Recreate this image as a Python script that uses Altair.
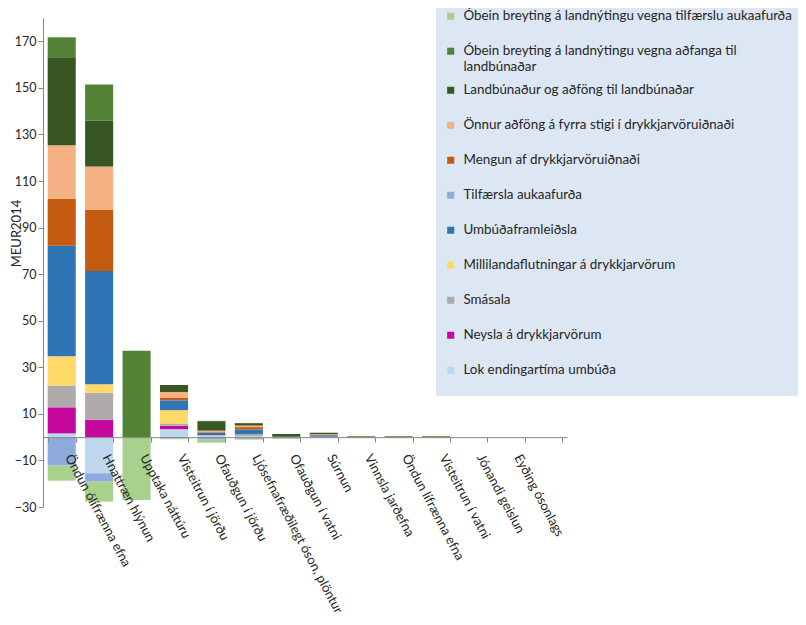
import altair as alt
import pandas as pd

categories = [
    "Öndun ólífrænna efna", "Hnattræn hlýnun", "Upptaka náttúru",
    "Visteitrun í jörðu", "Ofauðgun í jörðu", "Ljósefnafræðilegt óson, plöntur",
    "Ofauðgun í vatni", "Súrnun", "Vinnsla jarðefna", "Öndun lífrænna efna",
    "Visteitrun í vatni", "Jónandi geislun", "Eyðing ósonlags",
]

# series in stacking order (first = closest to zero)
lok_endingartima = [1.6, -15.5, 0, 3.4, 0.6, 0.4, 0.2, 0.2, 0, 0, 0, 0, 0]
neysla = [11.2, 7.5, 0, 1.5, 0, 0, 0, 0, 0, 0, 0, 0, 0]
smasala = [9.4, 11.6, 0, 0.8, 0.3, 0.9, 0, 0, 0, 0, 0, 0, 0]
millilandaflutningar = [12.5, 3.6, 0, 5.9, 0, 0, 0, 0, 0, 0, 0, 0, 0]
umbudaframleidsla = [47.5, 48.7, 0, 4.2, 0.9, 2.0, 0, 0.6, 0, 0, 0, 0, 0]
tilfaersla = [-12.2, -3.6, 0, -0.5, -1.1, -0.7, -0.4, -0.2, 0, 0, 0, 0, 0]
mengun = [20.1, 26.1, 0, 1.0, 0.3, 1.0, 0, 0.3, 0, 0, 0, 0, 0]
onnur_adfong = [23.0, 18.7, 0, 2.6, 0.7, 0.7, 0, 0.2, 0, 0, 0, 0, 0]
landbunadur = [37.8, 19.7, 0, 3.0, 3.7, 1.0, 1.2, 0.6, 0, 0, 0, 0, 0]
obein_adfanga = [8.6, 15.5, 37.1, 0, 0.5, 0, 0, 0, 0.4, 0.4, 0.4, 0, 0]
obein_tilfaerslu = [-6.5, -8.6, -27.0, -0.4, -1.3, -0.4, -0.3, -0.1, -0.3, -0.3, -0.3, 0, 0]

series_names = [
    "Lok endingartíma umbúða",
    "Neysla á drykkjarvörum",
    "Smásala",
    "Millilandaflutningar á drykkjarvörum",
    "Umbúðaframleiðsla",
    "Tilfærsla aukaafurða",
    "Mengun af drykkjarvöruiðnaði",
    "Önnur aðföng á fyrra stigi í drykkjarvöruiðnaði",
    "Landbúnaður og aðföng til landbúnaðar",
    "Óbein breyting á landnýtingu vegna aðfanga til landbúnaðar",
    "Óbein breyting á landnýtingu vegna tilfærslu aukaafurða",
]
series_values = [
    lok_endingartima, neysla, smasala, millilandaflutningar, umbudaframleidsla,
    tilfaersla, mengun, onnur_adfong, landbunadur, obein_adfanga, obein_tilfaerslu,
]
series_colors = [
    "#bdd7ee", "#c5079d", "#aeaaaa", "#ffd966", "#2e75b6",
    "#8faadc", "#c55a11", "#f4b183", "#375623", "#548235", "#a9d18e",
]

y_ticks = [-30, -10, 10, 30, 50, 70, 90, 110, 130, 150, 170]
y_domain = [-30, 180]

rows = []
for idx, (name, vals) in enumerate(zip(series_names, series_values)):
    for cat, v in zip(categories, vals):
        rows.append({"category": cat, "series": name, "value": v, "order": idx})
df = pd.DataFrame(rows)

W, H = 524, 489
FONT = "Lato"
TXT = "#262626"
AX = "#868686"

wrapped = series_names[9]
label_expr = (
    f"datum.label == '{wrapped}' ? "
    "['Óbein breyting á landnýtingu vegna aðfanga til', 'landbúnaðar'] : datum.label"
)

chart = (
    alt.Chart(df)
    .mark_bar()
    .encode(
        x=alt.X(
            "category:N",
            sort=None,
            scale=alt.Scale(domain=categories + [" "], paddingInner=0.25, paddingOuter=0.125),
            axis=alt.Axis(
                title=None,
                labelAngle=62,
                labelAlign="left",
                labelBaseline="bottom",
                labelPadding=16,
                labelLimit=400,
                labelFont=FONT,
                labelFontSize=13,
                labelColor=TXT,
                tickSize=5,
                tickBand="extent",
                tickColor=AX,
                domainColor=AX,
                offset=-H * (0 - y_domain[0]) / (y_domain[1] - y_domain[0]),
                zindex=1,
            ),
        ),
        y=alt.Y(
            "value:Q",
            stack="zero",
            scale=alt.Scale(domain=y_domain, nice=False),
            axis=alt.Axis(
                values=y_ticks,
                grid=False,
                title="MEUR2014",
                titleFont=FONT,
                titleFontSize=13,
                titleFontWeight="normal",
                titleColor=TXT,
                titleY=215,
                titleX=-20,
                labelFont=FONT,
                labelFontSize=12.5,
                labelColor=TXT,
                labelPadding=2,
                tickSize=5,
                tickColor=AX,
                domainColor=AX,
            ),
        ),
        color=alt.Color(
            "series:N",
            scale=alt.Scale(domain=series_names[::-1], range=series_colors[::-1]),
            legend=alt.Legend(
                title=None,
                orient="none",
                legendX=393,
                legendY=-27,
                fillColor="#dde7f3",
                padding=8,
                rowPadding=0,
                clipHeight=34.4,
                symbolType="square",
                symbolSize=50,
                symbolStrokeWidth=0,
                labelFont=FONT,
                labelFontSize=13.4,
                labelColor=TXT,
                labelLimit=400,
                labelOffset=6,
                labelExpr=label_expr,
            ),
        ),
        order=alt.Order("order:Q", sort="ascending"),
    )
    .properties(
        width=W,
        height=H,
        autosize=alt.AutoSizeParams(type="none"),
        padding={"left": 35, "top": 10, "right": 231, "bottom": 110},
    )
    .configure_view(stroke=None)
)

chart.save("out.html", embed_options={"renderer": "svg", "actions": False})
